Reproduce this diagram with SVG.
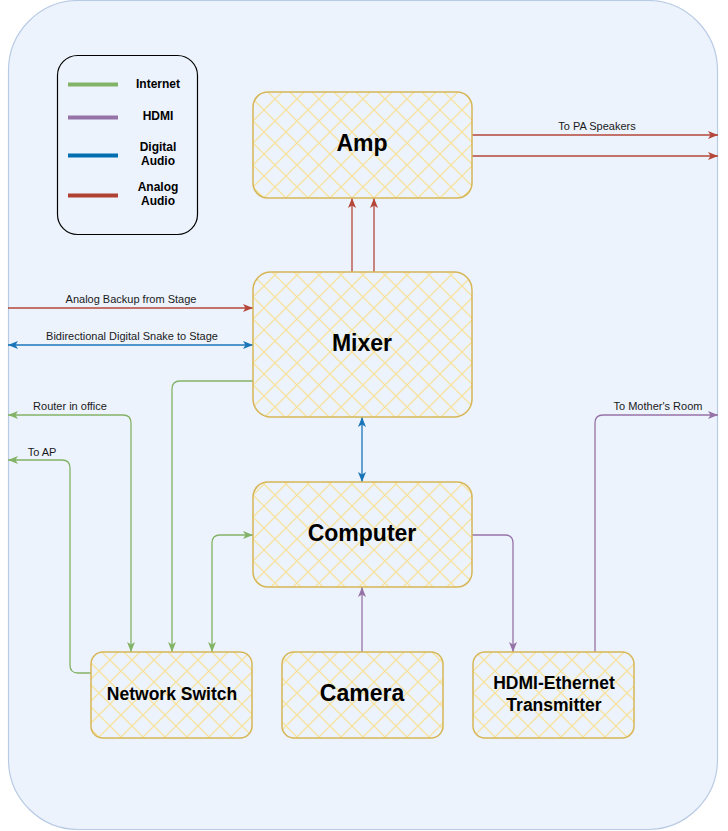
<svg xmlns="http://www.w3.org/2000/svg" width="728" height="831" viewBox="0 0 728 831">
<style>
.node{fill:url(#hatch);stroke:#d6b656;stroke-width:1.5}
.big{font-family:"Liberation Sans",Arial,sans-serif;font-weight:bold;font-size:23px;fill:#000;text-anchor:middle}
.mid{font-family:"Liberation Sans",Arial,sans-serif;font-weight:bold;font-size:17.5px;fill:#000;text-anchor:middle}
.leg{font-family:"Liberation Sans",Arial,sans-serif;font-weight:bold;font-size:12px;fill:#000;text-anchor:middle}
.lbl{font-family:"Liberation Sans",Arial,sans-serif;font-size:11px;fill:#1a1a1a;text-anchor:middle}
.c{fill:none;stroke-width:1.3}
.g{stroke:#82b366}.p{stroke:#9673a6}.b{stroke:#1a75b8}.r{stroke:#b5463a}
</style>
<defs>
<pattern id="hatch" patternUnits="userSpaceOnUse" width="22" height="22">
<path d="M0,0 L22,22 M22,0 L0,22 M-11,11 L11,33 M11,-11 L33,11 M11,-11 L-11,11 M33,11 L11,33" stroke="#f6e3a2" stroke-width="1.4" fill="none"/>
</pattern>
<marker id="ag" markerUnits="userSpaceOnUse" markerWidth="12" markerHeight="10" refX="10" refY="4" orient="auto-start-reverse"><path d="M0,0 L10,4 L0,8 L2.5,4 Z" fill="#82b366"/></marker>
<marker id="ap" markerUnits="userSpaceOnUse" markerWidth="12" markerHeight="10" refX="10" refY="4" orient="auto-start-reverse"><path d="M0,0 L10,4 L0,8 L2.5,4 Z" fill="#9673a6"/></marker>
<marker id="ab" markerUnits="userSpaceOnUse" markerWidth="12" markerHeight="10" refX="10" refY="4" orient="auto-start-reverse"><path d="M0,0 L10,4 L0,8 L2.5,4 Z" fill="#1a75b8"/></marker>
<marker id="ar" markerUnits="userSpaceOnUse" markerWidth="12" markerHeight="10" refX="10" refY="4" orient="auto-start-reverse"><path d="M0,0 L10,4 L0,8 L2.5,4 Z" fill="#b5463a"/></marker>
</defs>
<rect x="0" y="0" width="728" height="831" fill="#ffffff"/>
<rect id="container" x="8.5" y="0.5" width="709" height="829" rx="70" fill="#edf3fd" stroke="#b8cbe4" stroke-width="1.2"/>

<g id="legend">
<rect x="57.5" y="55.5" width="140" height="179" rx="20" fill="none" stroke="#000" stroke-width="1.2"/>
<line x1="68" y1="84.5" x2="118" y2="84.5" stroke="#82b366" stroke-width="4"/>
<line x1="68" y1="117.5" x2="118" y2="117.5" stroke="#9673a6" stroke-width="4"/>
<line x1="68" y1="155.5" x2="118" y2="155.5" stroke="#006eaf" stroke-width="4"/>
<line x1="68" y1="195.5" x2="118" y2="195.5" stroke="#ae4132" stroke-width="4"/>
<text class="leg" x="158" y="88">Internet</text>
<text class="leg" x="158" y="120">HDMI</text>
<text class="leg" x="158" y="151">Digital</text>
<text class="leg" x="158" y="165">Audio</text>
<text class="leg" x="158" y="191">Analog</text>
<text class="leg" x="158" y="205">Audio</text>
</g>

<g id="connectors">
<path class="c r" d="M472,135 L718,135" marker-end="url(#ar)"/>
<path class="c r" d="M472,156 L718,156" marker-end="url(#ar)"/>
<path class="c r" d="M352,272 L352,198" marker-end="url(#ar)"/>
<path class="c r" d="M374,272 L374,198" marker-end="url(#ar)"/>
<path class="c r" d="M8,308 L253,308" marker-end="url(#ar)"/>
<path class="c b" d="M8,345 L253,345" marker-start="url(#ab)" marker-end="url(#ab)"/>
<path class="c g" d="M253,381 L180,381 Q172,381 172,389 L172,652" marker-end="url(#ag)"/>
<path class="c g" d="M131,652 L131,423 Q131,415 123,415 L8,415" marker-start="url(#ag)" marker-end="url(#ag)"/>
<path class="c g" d="M91,673 L78,673 Q70,673 70,665 L70,468 Q70,460 62,460 L8,460" marker-end="url(#ag)"/>
<path class="c g" d="M212,652 L212,543 Q212,535 220,535 L253,535" marker-start="url(#ag)" marker-end="url(#ag)"/>
<path class="c b" d="M362,417 L362,482" marker-start="url(#ab)" marker-end="url(#ab)"/>
<path class="c p" d="M362,652 L362,587" marker-end="url(#ap)"/>
<path class="c p" d="M472,535 L505,535 Q513,535 513,543 L513,652" marker-end="url(#ap)"/>
<path class="c p" d="M595,652 L595,423 Q595,415 603,415 L718,415" marker-end="url(#ap)"/>
<text class="lbl" x="597" y="130">To PA Speakers</text>
<text class="lbl" x="131" y="303">Analog Backup from Stage</text>
<text class="lbl" x="132" y="340">Bidirectional Digital Snake to Stage</text>
<text class="lbl" x="70" y="410">Router in office</text>
<text class="lbl" x="42" y="456">To AP</text>
<text class="lbl" x="658" y="410">To Mother's Room</text>
</g>

<g id="amp"><rect class="node" x="253" y="92" width="219" height="106" rx="15"/><text class="big" x="362" y="151">Amp</text></g>
<g id="mixer"><rect class="node" x="253" y="272" width="219" height="145" rx="18"/><text class="big" x="362" y="351">Mixer</text></g>
<g id="computer"><rect class="node" x="253" y="482" width="219" height="105" rx="15"/><text class="big" x="362" y="541">Computer</text></g>
<g id="switch"><rect class="node" x="91" y="652" width="161" height="86" rx="12"/><text class="mid" x="172" y="700">Network Switch</text></g>
<g id="camera"><rect class="node" x="282" y="652" width="161" height="86" rx="12"/><text class="big" x="362" y="701">Camera</text></g>
<g id="transmitter"><rect class="node" x="473" y="652" width="161" height="86" rx="12"/><text class="mid" x="554" y="689">HDMI-Ethernet</text><text class="mid" x="554" y="711">Transmitter</text></g>
</svg>
